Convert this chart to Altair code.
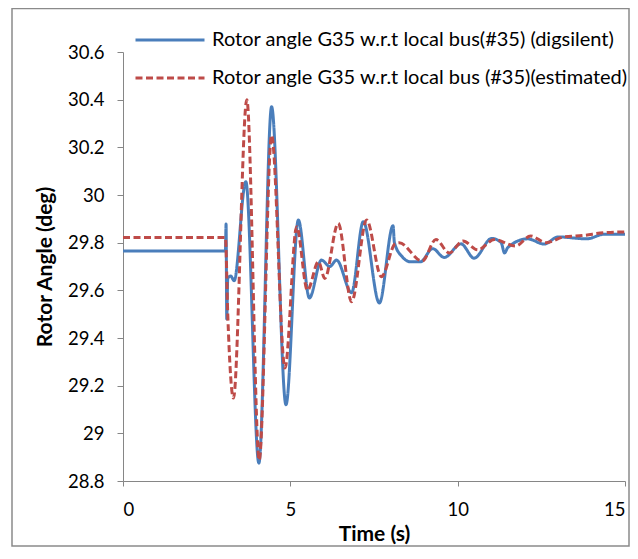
import altair as alt
import pandas as pd

# ---- data ----
series_names = [
    "Rotor angle G35 w.r.t  local bus(#35) (digsilent)",
    "Rotor angle G35 w.r.t local bus (#35)(estimated)",
]
series_colors = ["#4A7EBB", "#BE4B48"]

t_dig = [0, 3.06, 3.08, 3.10, 3.13, 3.22, 3.32, 3.67, 4.06, 4.44, 4.87, 5.24,
         5.57, 5.93, 6.18, 6.38, 6.83, 7.18, 7.66, 8.07, 8.11, 8.35, 8.59, 8.89,
         9.25, 9.6, 10.1, 10.49, 11.02, 11.3, 11.4, 11.5, 12.09, 12.59, 13.0,
         13.86, 14.36, 15]
v_dig = [29.765, 29.765, 29.878, 29.48, 29.65, 29.66, 29.64, 30.056, 28.875,
         30.37, 29.12, 29.895, 29.568, 29.727, 29.70, 29.727, 29.59, 29.888,
         29.547, 29.871, 29.80, 29.74, 29.72, 29.72, 29.775, 29.738, 29.795,
         29.735, 29.818, 29.80, 29.757, 29.78, 29.816, 29.794, 29.824, 29.816,
         29.835, 29.835]

t_est = [0, 3.06, 3.13, 3.30, 3.70, 4.07, 4.44, 4.84, 5.19, 5.51, 5.84, 6.03,
         6.43, 6.83, 7.28, 7.72, 8.13, 8.25, 8.94, 9.35, 9.75, 10.16, 10.6,
         11.1, 11.73, 12.18, 12.64, 13.2, 13.75, 14.36, 15]
v_est = [29.822, 29.822, 29.5, 29.148, 30.40, 28.888, 30.25, 29.274, 29.867,
         29.60, 29.72, 29.65, 29.881, 29.552, 29.895, 29.657, 29.795, 29.80,
         29.723, 29.813, 29.757, 29.807, 29.77, 29.813, 29.786, 29.828, 29.80,
         29.825, 29.83, 29.842, 29.845]

x_ticks = [0, 5, 10, 15]
y_ticks = [28.8, 29.0, 29.2, 29.4, 29.6, 29.8, 30.0, 30.2, 30.4, 30.6]

df = pd.concat([
    pd.DataFrame({"t": t_dig, "v": v_dig, "series": series_names[0]}),
    pd.DataFrame({"t": t_est, "v": v_est, "series": series_names[1]}),
], ignore_index=True)

FONT = "Lato"
AXIS_GRAY = "#868686"

legend = alt.Legend(
    title=None, orient="none", legendX=11, legendY=-30,
    symbolType="stroke", symbolSize=4761, symbolStrokeWidth=3,
    clipHeight=36, rowPadding=2, padding=0,
    labelFont=FONT, labelFontSize=20, labelColor="black",
    labelOffset=6, labelLimit=700,
)

lines = alt.Chart(df).mark_line(strokeWidth=3, interpolate="monotone").encode(
    x=alt.X("t:Q", scale=alt.Scale(domain=[0, 15], nice=False),
            axis=alt.Axis(values=x_ticks, title="Time (s)", grid=False,
                          domainColor=AXIS_GRAY, tickColor=AXIS_GRAY,
                          tickSize=5, labelFont=FONT, labelFontSize=18.5,
                          labelColor="black", labelPadding=14,
                          titleFont=FONT, titleFontSize=21,
                          titleFontWeight="bold", titleColor="black",
                          titleY=53, titleBaseline="middle")),
    y=alt.Y("v:Q", scale=alt.Scale(domain=[28.8, 30.6], nice=False, zero=False),
            axis=alt.Axis(values=y_ticks, format="~g", title="Rotor Angle (deg)",
                          grid=False, domainColor=AXIS_GRAY, tickColor=AXIS_GRAY,
                          tickSize=6, labelFont=FONT, labelFontSize=18.5,
                          labelColor="black", labelPadding=13,
                          titleFont=FONT, titleFontSize=21,
                          titleFontWeight="bold", titleColor="black",
                          titleAngle=270, titleX=-78, titleY=214.5,
                          titleAlign="center", titleBaseline="middle")),
    color=alt.Color("series:N",
                    scale=alt.Scale(domain=series_names, range=series_colors),
                    legend=legend),
    strokeDash=alt.StrokeDash("series:N",
                              scale=alt.Scale(domain=series_names,
                                              range=[[1, 0], [7, 3.5]]),
                              legend=legend),
)

frame = alt.Chart(pd.DataFrame({"f": [0]})).mark_rect(
    filled=False, stroke="#8a8a8a", strokeWidth=1.5
).encode(
    x=alt.value(-111), x2=alt.value(506),
    y=alt.value(-43.5), y2=alt.value(494),
)

chart = alt.layer(lines, frame).properties(
    width=502, height=429,
    padding={"left": 115, "top": 44, "right": 5, "bottom": 66},
    autosize=alt.AutoSizeParams(type="none"),
    background="white",
).configure_view(stroke="transparent")

chart.save("out.html", embed_options={"renderer": "svg", "actions": False})
